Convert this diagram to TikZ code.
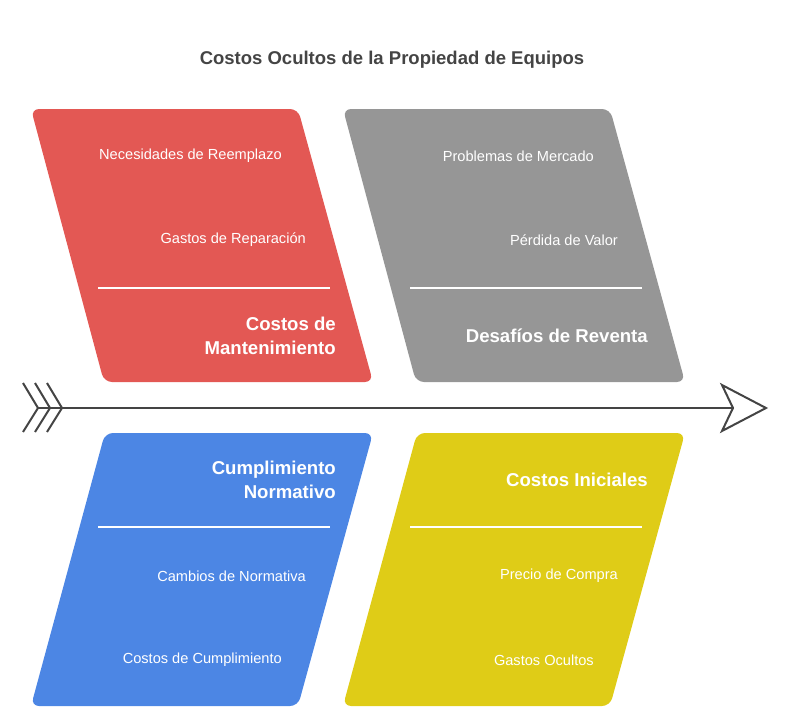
\documentclass[tikz,border=0pt]{standalone}
\usepackage{fontspec}
\setmainfont{Liberation Sans}
\definecolor{bonered}{HTML}{E35854}
\definecolor{bonegray}{HTML}{969696}
\definecolor{boneblue}{HTML}{4C86E4}
\definecolor{boneyellow}{HTML}{DFCC17}
\definecolor{inkgray}{HTML}{444444}
\tikzset{
  bone/.style={rounded corners=8pt},
  item/.style={anchor=east, inner sep=0pt, text=white,
    font=\fontsize{14.6}{17}\selectfont},
  head/.style={anchor=east, inner sep=0pt, text=white, align=right,
    font=\bfseries\fontsize{18.6}{24}\selectfont},
  rule/.style={white, line width=1.5pt},
  spine/.style={inkgray, line width=2pt},
}
\begin{document}
\begin{tikzpicture}[x=1pt, y=-1pt]
  \useasboundingbox (0,0) rectangle (790,720);
  \node[inkgray, font=\bfseries\fontsize{18.5}{20}\selectfont] (title) at (392,60)
    {Costos Ocultos de la Propiedad de Equipos};
  % bones
  \fill[bonered, bone]    (31,109) -- (298,109) -- (373,382) -- (104,382) -- cycle;
  \fill[bonegray, bone]   (343,109) -- (610,109) -- (685,382) -- (416,382) -- cycle;
  \fill[boneblue, bone]   (105,433) -- (373,433) -- (298,706) -- (31,706) -- cycle;
  \fill[boneyellow, bone] (417,433) -- (685,433) -- (610,706) -- (343,706) -- cycle;
  % upper bones
  \node[item] (reemplazo)  at (282,156) {Necesidades de Reemplazo};
  \node[item] (reparacion) at (306,240) {Gastos de Reparación};
  \draw[rule] (98,288) -- (330,288);
  \node[head] (mantenimiento) at (336,336) {Costos de\\Mantenimiento};
  \node[item] (mercado) at (594,156) {Problemas de Mercado};
  \node[item] (valor)   at (618,240) {Pérdida de Valor};
  \draw[rule] (410,288) -- (642,288);
  \node[head] (reventa) at (648,336) {Desafíos de Reventa};
  % lower bones
  \node[head] (normativo) at (336,480) {Cumplimiento\\Normativo};
  \draw[rule] (98,527) -- (330,527);
  \node[item] (cambios)      at (306,576) {Cambios de Normativa};
  \node[item] (cumplimiento) at (282,660) {Costos de Cumplimiento};
  \node[head] (iniciales) at (648,480) {Costos Iniciales};
  \draw[rule] (410,527) -- (642,527);
  \node[item] (compra)  at (618,576) {Precio de Compra};
  \node[item] (ocultos) at (594,660) {Gastos Ocultos};
  % spine
  \coordinate (tail) at (38,408);
  \coordinate (tip)  at (733,408);
  \draw[spine] (tail) -- (tip);
  \draw[spine, line join=miter] (tip) -- (722,385) -- (766,408) -- (722,431) -- cycle;
  \foreach \x in {0,12,24}
    \draw[spine] (23+\x,383) -- (38+\x,408) -- (23+\x,432);
\end{tikzpicture}
\end{document}
